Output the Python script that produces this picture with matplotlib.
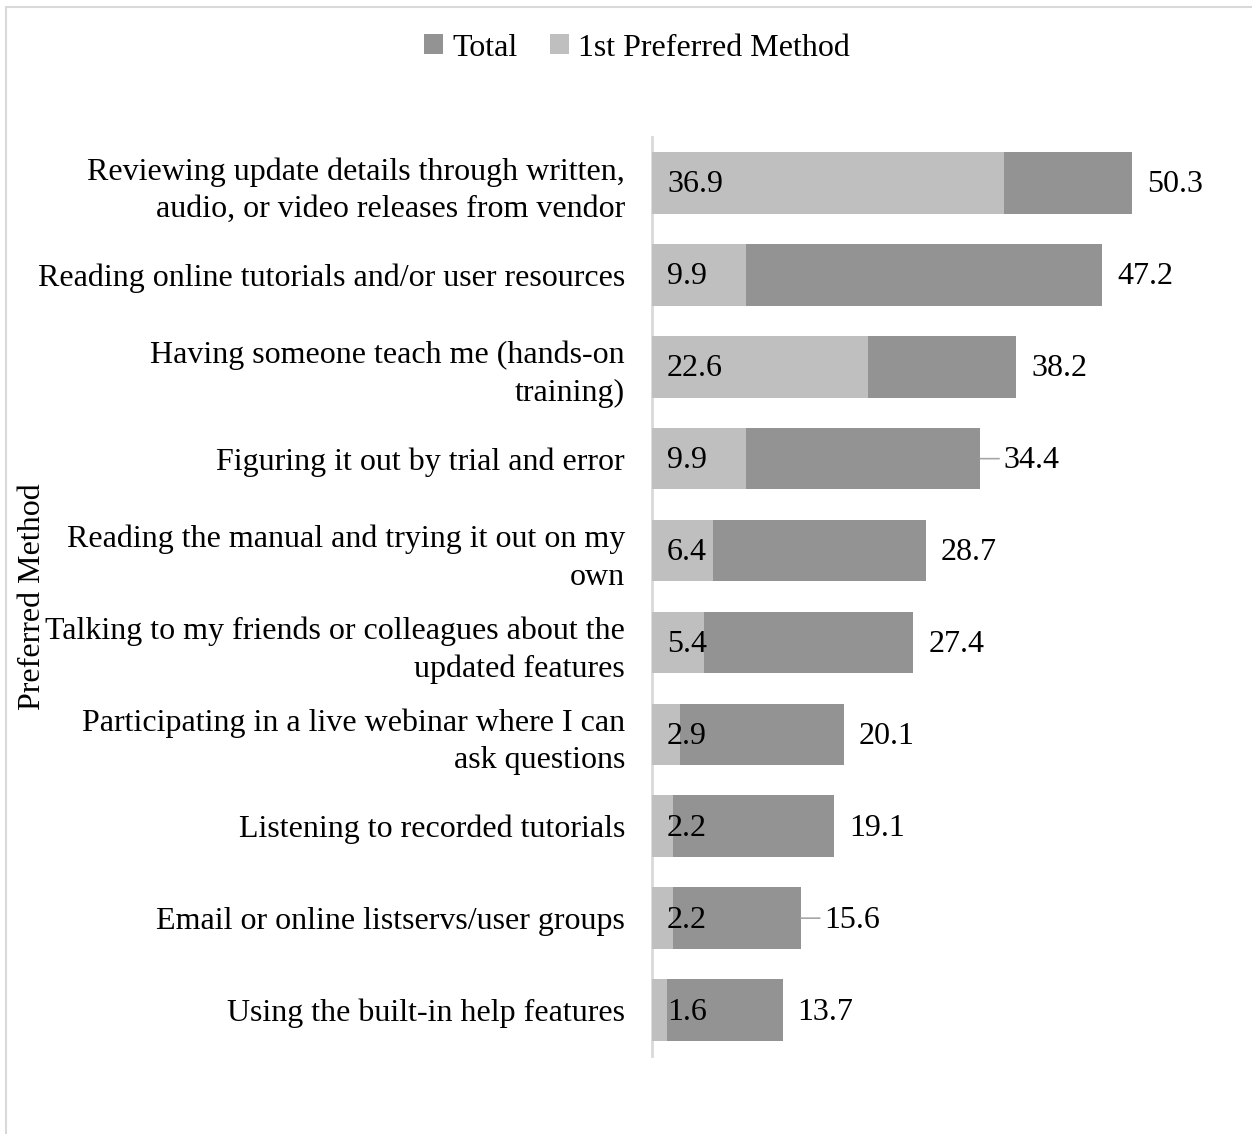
import matplotlib
matplotlib.use("Agg")
import matplotlib.pyplot as plt
from matplotlib.patches import Rectangle
import numpy as np

categories = [
    "Reviewing update details through written,\naudio, or video releases from vendor",
    "Reading online tutorials and/or user resources",
    "Having someone teach me (hands-on\ntraining)",
    "Figuring it out by trial and error",
    "Reading the manual and trying it out on my\nown",
    "Talking to my friends or colleagues about the\nupdated features",
    "Participating in a live webinar where I can\nask questions",
    "Listening to recorded tutorials",
    "Email or online listservs/user groups",
    "Using the built-in help features",
]
total = [50.3, 47.2, 38.2, 34.4, 28.7, 27.4, 20.1, 19.1, 15.6, 13.7]
first_pref = [36.9, 9.9, 22.6, 9.9, 6.4, 5.4, 2.9, 2.2, 2.2, 1.6]
leader_items = {3, 8}

plt.rcParams['font.family'] = ['Liberation Serif', 'DejaVu Serif']
FS = 23

W, H = 1252, 1134
fig = plt.figure(figsize=(W / 100, H / 100), dpi=100)

# chart border (only left and top visible in frame)
fig.patches.append(Rectangle((6 / W, -1), 2, 2 - 7 / H, transform=fig.transFigure,
                             fill=False, edgecolor='#d9d9d9', linewidth=1.5))

ax_left, ax_top, ax_bottom = 652, 137, 1056
px_per_unit = 9.54
xmax = 60
ax_right = ax_left + xmax * px_per_unit
ax = fig.add_axes([ax_left / W, 1 - ax_bottom / H, (ax_right - ax_left) / W,
                   (ax_bottom - ax_top) / H])

y = np.arange(len(categories))
h = 0.67
c_total = '#939393'
c_first = '#bfbfbf'
ax.barh(y, total, height=h, color=c_total, label='Total', zorder=2)
ax.barh(y, first_pref, height=h, color=c_first, label='1st Preferred Method', zorder=3)

ax.set_xlim(0, xmax)
ax.set_ylim(len(categories) - 0.5, -0.5)
ax.set_yticks(y)
ax.set_yticklabels(categories, fontsize=FS, linespacing=1.38, ha='right')
ax.tick_params(axis='y', length=0, pad=19.5)
ax.set_xticks([])
for s in ['top', 'right', 'bottom']:
    ax.spines[s].set_visible(False)
ax.spines['left'].set_color('#d9d9d9')
ax.spines['left'].set_linewidth(2)

for i, (t, f) in enumerate(zip(total, first_pref)):
    ax.annotate(f"{f:.1f}", xy=(0, i), xytext=(15, -2), textcoords='offset pixels',
                va='center', ha='left', fontsize=FS, zorder=5)
    if i in leader_items:
        ax.annotate(f"{t:.1f}", xy=(t, i), xytext=(23, -2), textcoords='offset pixels',
                    va='center', ha='left', fontsize=FS)
        ax.annotate("", xy=(t, i), xytext=(t + 19 / px_per_unit, i),
                    arrowprops=dict(arrowstyle='-', color='#a6a6a6', lw=1.2,
                                    shrinkA=0, shrinkB=0))
    else:
        ax.annotate(f"{t:.1f}", xy=(t, i), xytext=(15, -2), textcoords='offset pixels',
                    va='center', ha='left', fontsize=FS)

fig.text(33 / W, 1 - 597 / H, "Preferred Method", rotation=90, fontsize=FS,
         ha='center', va='center')

fig.legend(loc='center', bbox_to_anchor=(637 / W, 1 - 48 / H), ncol=2, frameon=False,
           fontsize=FS, handlelength=0.6, handleheight=0.6, handletextpad=0.3,
           columnspacing=1.0)

fig.savefig("out.png", dpi=100)
